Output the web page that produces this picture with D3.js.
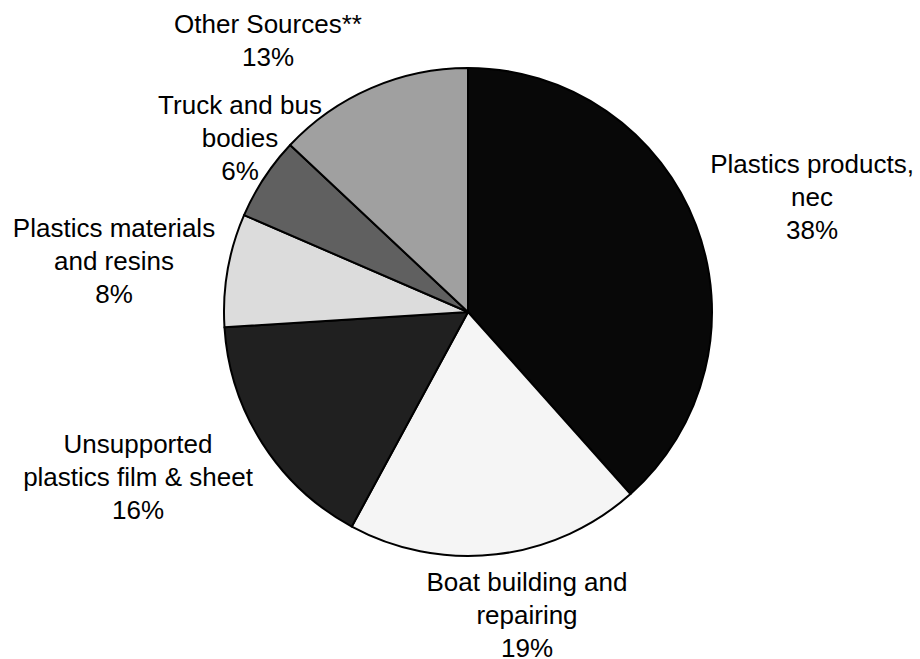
<!DOCTYPE html>
<html>
<head>
<meta charset="utf-8">
<script src="https://cdn.jsdelivr.net/npm/d3@7"></script>
<style>
  html, body { margin: 0; padding: 0; background: #ffffff; }
  svg { display: block; }
  text { font-family: "Liberation Sans", Arial, Helvetica, sans-serif; font-size: 26px; fill: #000; }
</style>
</head>
<body>
<svg id="chart" width="920" height="659"></svg>
<script>
// ---- data ----
const categories = [
  "Plastics products, nec",
  "Boat building and repairing",
  "Unsupported plastics film & sheet",
  "Plastics materials and resins",
  "Truck and bus bodies",
  "Other Sources**"
];
const values = [38.4, 19.5, 16.1, 7.5, 5.5, 13.0];
const percentLabels = ["38%", "19%", "16%", "8%", "6%", "13%"];
const labelLines = [
  ["Plastics products,", "nec"],
  ["Boat building and", "repairing"],
  ["Unsupported", "plastics film & sheet"],
  ["Plastics materials", "and resins"],
  ["Truck and bus", "bodies"],
  ["Other Sources**"]
];
const fills = ["#080808", "#f5f5f5", "#202020", "#dcdcdc", "#606060", "#a0a0a0"];

// ---- layout ----
const cx = 468, cy = 312, radius = 244;
// label anchor (centre x, first baseline y) for each slice
const labelPos = [
  [812, 173],
  [527, 591],
  [138, 453],
  [114, 237],
  [240, 114],
  [268, 33]
];
const lineGap = 33;

const svg = d3.select("#chart");
const g = svg.append("g").attr("transform", `translate(${cx},${cy})`);

const pie = d3.pie().value(d => d.value).sort(null);
const arc = d3.arc().innerRadius(0).outerRadius(radius);

const data = categories.map((c, i) => ({ name: c, value: values[i], i }));
const arcs = pie(data);

g.selectAll("path.slice")
  .data(arcs)
  .enter().append("path")
  .attr("class", "slice")
  .attr("d", arc)
  .attr("fill", d => fills[d.data.i])
  .attr("stroke", "#000")
  .attr("stroke-width", 2)
  .attr("stroke-linejoin", "round");

const labels = svg.selectAll("text.label")
  .data(arcs)
  .enter().append("text")
  .attr("class", "label")
  .attr("text-anchor", "middle");

labels.each(function(d) {
  const i = d.data.i;
  const [lx, ly] = labelPos[i];
  const lines = labelLines[i].concat([percentLabels[i]]);
  const t = d3.select(this);
  lines.forEach((ln, k) => {
    t.append("tspan").attr("x", lx).attr("y", ly + k * lineGap).text(ln);
  });
});
</script>
</body>
</html>
